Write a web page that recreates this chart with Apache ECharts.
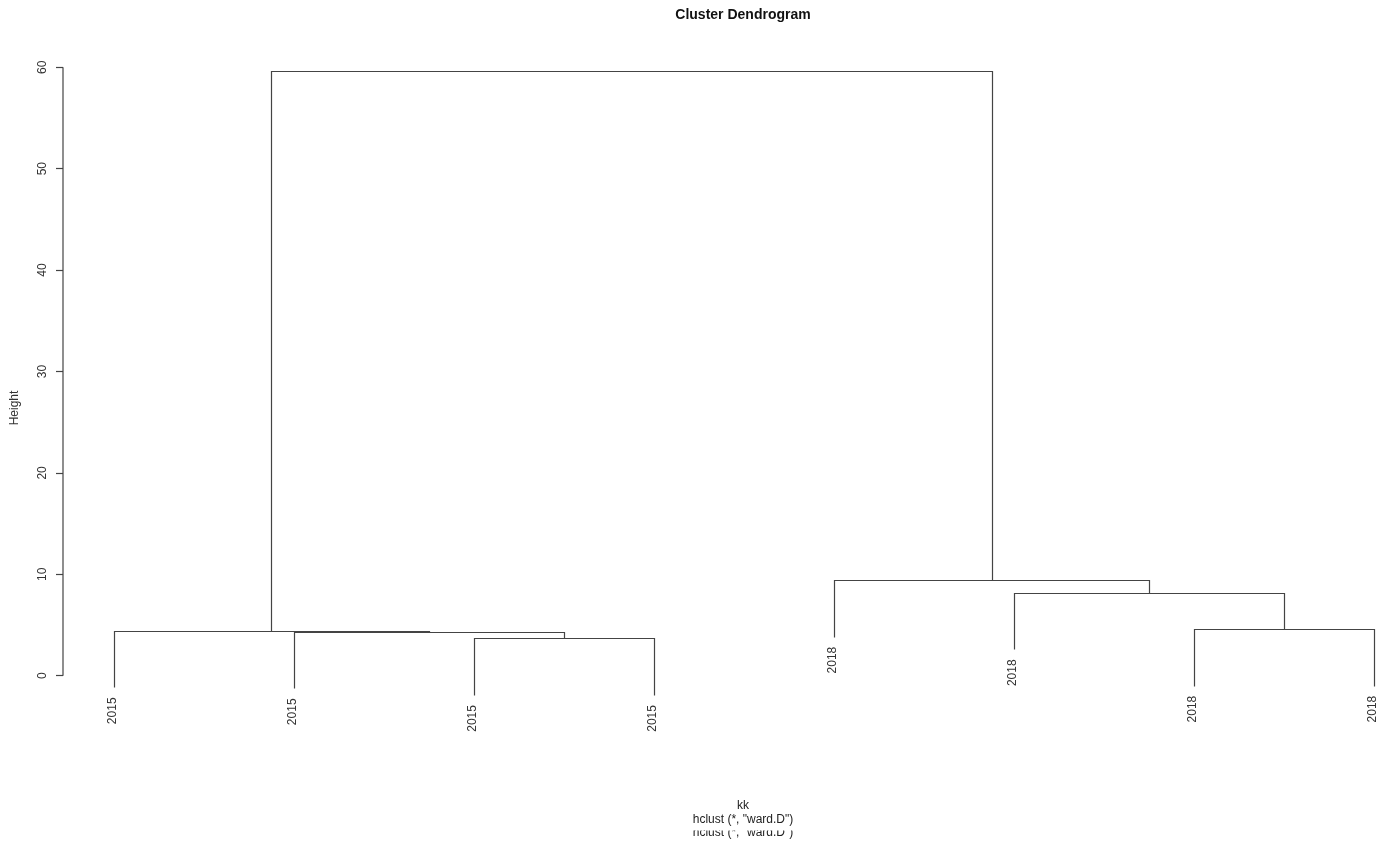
<!DOCTYPE html>
<html>
<head>
<meta charset="utf-8">
<script src="https://cdn.jsdelivr.net/npm/echarts@6/dist/echarts.min.js"></script>
<style>
html,body{margin:0;padding:0;background:#fff;}
#chart{width:1387px;height:845px;}
</style>
</head>
<body>
<div id="chart"></div>
<script>
// ---- data (R hclust style merge table) ----
const leafLabels = ['2015', '2015', '2015', '2015', '2018', '2018', '2018', '2018'];
const mergeLeft = [-3, -2, -1, -7, -6, -5, 3];
const mergeRight = [-4, 1, 2, -8, 4, 5, 6];
const mergeHeight = [3.69, 4.34, 4.44, 4.61, 8.19, 9.44, 59.66];
const yTicks = [0, 10, 20, 30, 40, 50, 60];
const titleText = 'Cluster Dendrogram';
const yLabel = 'Height';
const xLabel = 'kk';
const subLabel = 'hclust (*, "ward.D")';

// ---- build dendrogram segments ----
const hang = 0.1 * (Math.max(...mergeHeight) - Math.min(...mergeHeight));
const mergeX = [];
const leafEnd = [];
function nodeX(id) { return id < 0 ? -id : mergeX[id - 1]; }
function nodeBottom(id, h) { return id < 0 ? h - hang : mergeHeight[id - 1]; }
const segments = [];
for (let i = 0; i < mergeHeight.length; i++) {
  const L = mergeLeft[i], R = mergeRight[i], h = mergeHeight[i];
  mergeX[i] = (nodeX(L) + nodeX(R)) / 2;
  segments.push([nodeX(L), nodeBottom(L, h), nodeX(R), nodeBottom(R, h), h]);
  if (L < 0) leafEnd[-L - 1] = h - hang;
  if (R < 0) leafEnd[-R - 1] = h - hang;
}
const leafData = leafLabels.map((lab, i) => [i + 1, leafEnd[i], lab]);

const FONT = '"Liberation Sans", Arial, sans-serif';
const LINE = '#444444';
const xMin = 0.717, xMax = 8.072;

const chart = echarts.init(document.getElementById('chart'));
function px(v) { return Math.round(v) + 0.5; }

chart.setOption({
  backgroundColor: '#ffffff',
  animation: false,
  grid: { left: 63, right: 0, top: 47, bottom: 118.6, containLabel: false },
  xAxis: {
    type: 'value', min: xMin, max: xMax, show: false
  },
  yAxis: {
    type: 'value', min: -5, max: 62,
    axisLine: { show: false },
    splitLine: { show: false },
    axisTick: { show: true, length: 7, customValues: yTicks, lineStyle: { color: LINE, width: 1.2 } },
    axisLabel: {
      show: true, customValues: yTicks, rotate: 90, margin: 14,
      fontSize: 12, fontFamily: FONT, color: '#333'
    }
  },
  series: [
    {
      type: 'line',
      data: [[xMin, yTicks[0]], [xMin, yTicks[yTicks.length - 1]]],
      symbol: 'none', silent: true,
      lineStyle: { color: LINE, width: 1.2 }
    },
    {
      type: 'custom',
      data: segments,
      silent: true,
      renderItem: function (params, api) {
        const a = api.coord([api.value(0), api.value(1)]);
        const b = api.coord([api.value(0), api.value(4)]);
        const c = api.coord([api.value(2), api.value(4)]);
        const d = api.coord([api.value(2), api.value(3)]);
        return {
          type: 'polyline',
          shape: { points: [[px(a[0]), px(a[1])], [px(b[0]), px(b[1])], [px(c[0]), px(c[1])], [px(d[0]), px(d[1])]] },
          style: { stroke: LINE, lineWidth: 1.2, fill: null }
        };
      }
    },
    {
      type: 'custom',
      data: leafData,
      silent: true,
      renderItem: function (params, api) {
        const p = api.coord([api.value(0), api.value(1)]);
        return {
          type: 'text',
          x: p[0] - 1, y: p[1] + 10,
          rotation: Math.PI / 2,
          style: {
            text: leafLabels[params.dataIndex],
            align: 'right', verticalAlign: 'middle',
            fontSize: 12, fontFamily: FONT, fill: '#333'
          }
        };
      }
    }
  ],
  graphic: [
    { type: 'text', x: 743, y: 15, style: { text: titleText, align: 'center', verticalAlign: 'middle', font: 'bold 14px ' + FONT, fill: '#111' } },
    { type: 'text', x: 15, y: 408, rotation: Math.PI / 2, style: { text: yLabel, align: 'center', verticalAlign: 'middle', font: '12px ' + FONT, fill: '#333' } },
    { type: 'text', x: 743, y: 806, style: { text: xLabel, align: 'center', verticalAlign: 'middle', font: '12px ' + FONT, fill: '#222' } },
    { type: 'text', x: 743, y: 833, z: 1, style: { text: subLabel, align: 'center', verticalAlign: 'middle', font: '12px ' + FONT, fill: '#222' } },
    { type: 'rect', z: 2, shape: { x: 680, y: 824, width: 130, height: 6.5 }, style: { fill: '#ffffff' } },
    { type: 'text', x: 743, y: 820, z: 3, style: { text: subLabel, align: 'center', verticalAlign: 'middle', font: '12px ' + FONT, fill: '#222' } }
  ]
});
</script>
</body>
</html>
